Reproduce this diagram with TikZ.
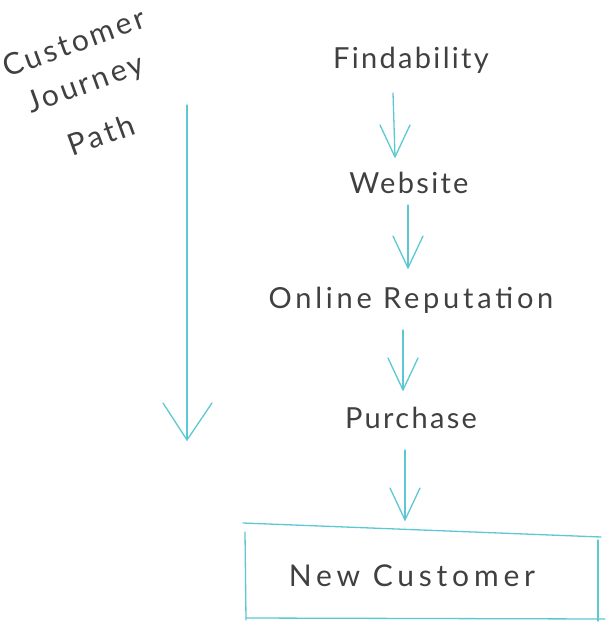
\documentclass[tikz,border=0pt]{standalone}
\usepackage{fontspec}
\setmainfont[LetterSpace=8]{Lato}
\usetikzlibrary{calc}
\definecolor{cy}{HTML}{5CC8D2}
\definecolor{ink}{HTML}{404040}
\begin{document}
\begin{tikzpicture}[x=1pt,y=-1pt,
  lbl/.style={text=ink,font=\fontsize{29}{32}\selectfont,inner sep=0pt,anchor=center},
  side/.style={text=ink,font=\fontsize{30}{33}\selectfont\addfontfeature{LetterSpace=10},inner sep=0pt,rotate=20,anchor=base west},
  flow/.style={draw=cy,line width=1.3pt,line cap=round},
  pen/.style={draw=cy,line width=1.3pt,line cap=round,line join=round}]
\useasboundingbox (0,0) rectangle (610,626);
\node[lbl] (find) at (411,60) {Findability};
\node[lbl] (web) at (409,183) {Website};
\node[lbl,font=\fontsize{29}{32}\selectfont\addfontfeature{LetterSpace=13}] (rep) at (411,300) {Online Reputation};
\node[lbl] (pur) at (411,418) {Purchase};
\node[lbl,font=\fontsize{30}{32}\selectfont\addfontfeature{LetterSpace=16}] (new) at (412,576) {New Customer};
\node[side] (cu) at (7,78) {Customer};
\node[side] (jo) at (31,114) {Journey};
\node[side] (pa) at (72,157) {Path};
% small arrows
\coordinate (a1s) at (393,93); \coordinate (a1e) at (395,157);
\coordinate (a2s) at (408,205); \coordinate (a2e) at (408,268);
\coordinate (a3s) at (403,330); \coordinate (a3e) at (403,390);
\coordinate (a4s) at (405,450); \coordinate (a4e) at (405,520);
\coordinate (bs) at (187,105); \coordinate (be) at (187,440);
\foreach \s/\e in {a1s/a1e,a2s/a2e,a3s/a3e,a4s/a4e}{
  \draw[flow] (\s) -- (\e);
  \draw[pen] ($(\e)+(-15,-32)$) -- (\e) -- ($(\e)+(15,-32)$);
}
\draw[flow] (bs) -- (be);
\draw[pen] ($(be)+(-24,-37)$) -- (be) -- ($(be)+(25,-37)$);
% box
\coordinate (b1) at (243,523); \coordinate (b2) at (601,537);
\coordinate (b3) at (245,532); \coordinate (b4) at (246,620);
\coordinate (b5) at (598,540); \coordinate (b6) at (598,621);
\coordinate (b7) at (246,618); \coordinate (b8) at (605,619);
\draw[pen] (b1) -- (b2);
\draw[pen] (b3) -- (b4);
\draw[pen] (b5) -- (b6);
\draw[pen] (b7) -- (b8);
\end{tikzpicture}
\end{document}
